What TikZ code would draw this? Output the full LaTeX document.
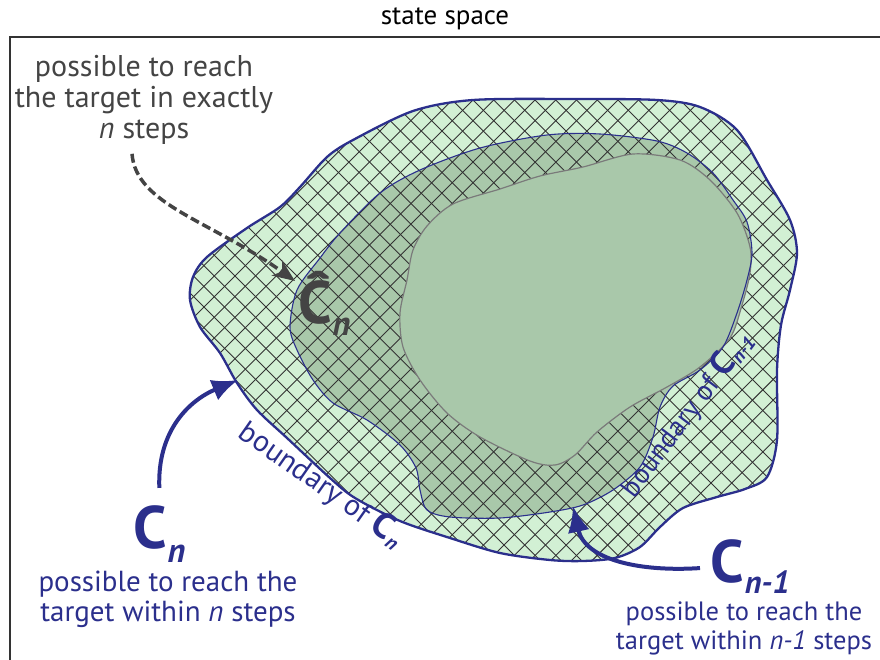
\documentclass[tikz,border=0pt]{standalone}
\usepackage{fontspec}
\setmainfont{PT Sans}
\usetikzlibrary{arrows.meta}
\definecolor{navy}{HTML}{2B2F8C}
\definecolor{lightgr}{HTML}{D2F0D4}
\definecolor{midgr}{HTML}{A9C8AA}
\definecolor{txtgray}{HTML}{444444}
\definecolor{hatchc}{HTML}{333333}
\definecolor{innerline}{HTML}{7A7A7A}
\definecolor{framec}{HTML}{333333}
\begin{document}
\begin{tikzpicture}[x=1pt,y=-1pt,
  hatchline/.style={draw=hatchc,line width=0.9pt},
  graytxt/.style={font=\fontsize{30}{31}\selectfont,text=txtgray,align=center,inner sep=0pt},
  bluetxt/.style={font=\fontsize{29}{30}\selectfont,text=navy,align=center,inner sep=0pt},
  bluetxtsmall/.style={font=\fontsize{26.5}{29}\selectfont,text=navy,align=center,inner sep=0pt},
  bndtxt/.style={font=\fontsize{30}{30}\selectfont,text=navy,inner sep=0pt},
  bigC/.style={inner sep=0pt,anchor=base west},
  bluearrow/.style={draw=navy,line width=4pt,-{Latex[length=26pt,width=22pt]}},
  dasharrow/.style={draw=txtgray,line width=3.5pt,dash pattern=on 9pt off 4pt,-{Stealth[length=22pt,width=18pt,inset=6pt]}}
]
\useasboundingbox (0,0) rectangle (880,660);
% frame
\draw[framec,line width=1.6pt] (10,660) -- (10,37) -- (880,37);
\node[font=\fontsize{27}{27}\selectfont,anchor=base,inner sep=0pt] (title) at (445,25) {state space};

% regions
\path[save path=\outerP] plot[smooth cycle,tension=0.5] coordinates {
 (473,100) (573,99) (657,100) (700,107) (737,130) (767,180) (790,220) (797,253) (790,290) (781,325) (777,370) (777,440) (767,477) (745,489) (717,497) (683,508) (660,527) (640,547) (615,558) (583,561) (550,560) (500,553) (450,538) (400,521) (355,498) (330,478) (287,438) (257,410) (237,383) (220,353) (200,327) (190,300) (193,277) (207,257) (247,228) (280,207) (300,187) (327,157) (353,140) (413,111)};
\path[save path=\middleP] plot[smooth cycle,tension=0.5] coordinates {
 (547,135) (600,134) (657,141) (687,153) (713,173) (733,200) (747,222) (752,253) (747,280) (737,313) (723,347) (700,370) (673,386) (660,407) (653,437) (640,467) (613,490) (583,505) (550,512) (500,518) (450,517) (427,510) (420,490) (416,468) (400,445) (367,420) (333,403) (313,380) (297,350) (290,327) (297,290) (320,258) (340,233) (380,193) (420,170) (480,148)};
\path[save path=\innerP] plot[smooth cycle,tension=0.5] coordinates {
 (407,280) (413,250) (427,226) (453,204) (500,189) (540,176) (583,167) (633,154) (680,160) (710,180) (737,213) (750,247) (750,273) (742,305) (730,338) (700,367) (667,387) (630,407) (597,432) (575,455) (555,465) (530,461) (480,437) (447,413) (420,380) (403,347) (400,313)};

\fill[lightgr,use path=\outerP];
\fill[midgr,use path=\middleP];
\begin{scope}
  \clip[use path=\outerP];
  \foreach \k in {-40,...,40} {
    \draw[hatchline] ({373+20.7*\k},0) -- ++(700,700);
    \draw[hatchline] ({573+20.7*\k},0) -- ++(-700,700);
  }
\end{scope}
\filldraw[fill=midgr,draw=innerline,line width=1.2pt,use path=\innerP];
\draw[navy,line width=1.1pt,use path=\middleP];
\draw[navy,line width=2.3pt,use path=\outerP];

% labels
\node[graytxt] (exact) at (144,100) {possible to reach\\the target in exactly\\\textit{n} steps};
\node[bigC,text=txtgray] (chat) at (298,323) {\fontsize{60}{60}\selectfont\bfseries Ĉ\kern1pt\raisebox{-12pt}{\fontsize{34}{34}\selectfont\bfseries\itshape n}};
\coordinate (hatTip) at (295,281);
\draw[dasharrow] ([xshift=-12pt,yshift=-9pt]exact.south) .. controls (136,205) and (210,220) .. (hatTip);

\node[bigC,text=navy] (cn) at (133,548) {\fontsize{60}{60}\selectfont\bfseries C\kern1pt\raisebox{-14pt}{\fontsize{34}{34}\selectfont\bfseries\itshape n}};
\node[bluetxt] (cntext) at (168,599) {possible to reach the\\target within \textit{n} steps};
\coordinate (cnTip) at (238,380);
\draw[bluearrow] ([yshift=17pt]cn.north) .. controls (157,430) and (190,400) .. (cnTip);

\node[bigC,text=navy] (cn1) at (710,582) {\fontsize{60}{60}\selectfont\bfseries C\kern1pt\raisebox{-11pt}{\fontsize{32}{32}\selectfont\bfseries\itshape n-1}};
\node[bluetxtsmall] (cn1text) at (744,628) {possible to reach the\\target within \textit{n-1} steps};
\coordinate (cn1Tip) at (573,506);
\draw[bluearrow] ([xshift=-10pt,yshift=-2pt]cn1.west) .. controls (640,572) and (585,560) .. (cn1Tip);

\node[bndtxt,rotate=-35,anchor=base] (bndn) at (316,492) {boundary of {\fontsize{36}{36}\selectfont\bfseries C}\kern1.5pt\raisebox{-5pt}{\fontsize{20}{20}\selectfont\bfseries\itshape n}};
\node[bndtxt,rotate=53,anchor=base,font=\fontsize{28}{28}\selectfont] (bndn1) at (694,420) {boundary of {\fontsize{34}{34}\selectfont\bfseries C}\kern1.5pt\raisebox{-4pt}{\fontsize{19}{19}\selectfont\bfseries\itshape n-1}};
\end{tikzpicture}
\end{document}
